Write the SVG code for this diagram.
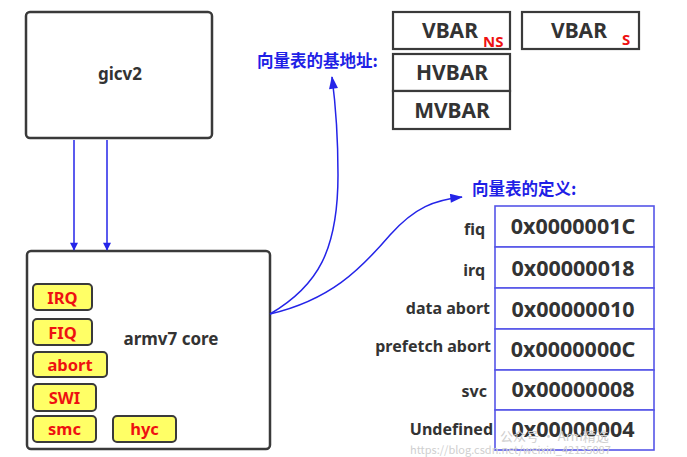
<svg xmlns="http://www.w3.org/2000/svg" width="687" height="457" viewBox="0 0 687 457">
<style>
.box{fill:#fff;stroke:#3a3a3a;stroke-width:2.5}
.reg{fill:#fff;stroke:#3a3a3a;stroke-width:2.2}
.exc{fill:#ffff66;stroke:#3a3a3a;stroke-width:2}
.row{fill:#fff;stroke:#5555e8;stroke-width:1.6}
.t{font-family:"Noto Sans","Liberation Sans",sans-serif;font-weight:bold;fill:#333}
.red{font-family:"Noto Sans","Liberation Sans",sans-serif;font-weight:bold;fill:#ee1111}
.cn{font-family:"Noto Sans CJK SC","Noto Sans",sans-serif;font-weight:bold;fill:#1f1fe6;font-size:16.5px}
.conn{fill:none;stroke:#2424e8;stroke-width:1.5}
.wm{font-family:"Noto Sans CJK SC","Noto Sans",sans-serif;fill:#cfcfcf}
</style>
<defs>
<marker id="ah" viewBox="0 0 10 10" refX="9" refY="5" markerWidth="10" markerHeight="8" markerUnits="userSpaceOnUse" orient="auto">
<path d="M0,0 L10,5 L0,10 Z" fill="#2424e8"/>
</marker>
<marker id="ah2" viewBox="0 0 14 10" refX="13" refY="5" markerWidth="14" markerHeight="9" markerUnits="userSpaceOnUse" orient="auto">
<path d="M0,0 L14,5 L0,10 Z" fill="#2424e8"/>
</marker>
</defs>

<g id="gicv2">
<rect class="box" x="26" y="12" width="186" height="126" rx="4"/>
<text class="t" x="120" y="80" font-size="17" text-anchor="middle">gicv2</text>
</g>

<g id="armv7-core">
<rect class="box" x="27" y="251" width="243" height="198" rx="4"/>
<text class="t" x="171" y="345" font-size="17" text-anchor="middle">armv7 core</text>
</g>
<g id="irq"><rect class="exc" x="33" y="284" width="59" height="26" rx="4"/><text class="red" x="62.5" y="303.5" font-size="16.5" text-anchor="middle">IRQ</text></g>
<g id="fiq"><rect class="exc" x="33" y="319" width="59" height="26" rx="4"/><text class="red" x="62.5" y="338.5" font-size="16.5" text-anchor="middle">FIQ</text></g>
<g id="abort"><rect class="exc" x="33" y="352" width="74" height="25" rx="4"/><text class="red" x="70" y="371" font-size="16.5" text-anchor="middle">abort</text></g>
<g id="swi"><rect class="exc" x="33" y="384" width="63" height="27" rx="4"/><text class="red" x="64.5" y="403.5" font-size="16.5" text-anchor="middle">SWI</text></g>
<g id="smc"><rect class="exc" x="33" y="416" width="63" height="26" rx="4"/><text class="red" x="64.5" y="435" font-size="16.5" text-anchor="middle">smc</text></g>
<g id="hyc"><rect class="exc" x="113" y="416" width="63" height="26" rx="4"/><text class="red" x="144.5" y="435" font-size="16.5" text-anchor="middle">hyc</text></g>

<g id="vbar-ns">
<rect class="reg" x="393" y="12" width="117" height="37"/>
<text class="t" x="422" y="38" font-size="21">VBAR</text>
<text class="red" x="483" y="47" font-size="15">NS</text>
</g>
<g id="vbar-s">
<rect class="reg" x="522" y="12" width="117" height="37"/>
<text class="t" x="551" y="38" font-size="21">VBAR</text>
<text class="red" x="622" y="45" font-size="15">S</text>
</g>
<g id="hvbar">
<rect class="reg" x="393" y="54" width="117" height="37"/>
<text class="t" x="452" y="80" font-size="21" text-anchor="middle">HVBAR</text>
</g>
<g id="mvbar">
<rect class="reg" x="393" y="91" width="117" height="38"/>
<text class="t" x="452" y="118" font-size="21" text-anchor="middle">MVBAR</text>
</g>

<g id="label-base">
<text class="cn" x="257" y="67">向量表的基地址:</text>
</g>
<g id="label-def">
<text class="cn" x="472" y="195">向量表的定义:</text>
</g>

<g id="vector-table">
<rect class="row" x="495" y="206" width="159" height="41"/>
<rect class="row" x="495" y="247" width="159" height="41"/>
<rect class="row" x="495" y="288" width="159" height="41"/>
<rect class="row" x="495" y="329" width="159" height="41"/>
<rect class="row" x="495" y="370" width="159" height="40"/>
<rect class="row" x="495" y="410" width="159" height="40"/>
<g class="t" font-size="21.5" text-anchor="middle">
<text x="573" y="234">0x0000001C</text>
<text x="573" y="276">0x00000018</text>
<text x="573" y="317">0x00000010</text>
<text x="573" y="357">0x0000000C</text>
<text x="573" y="397">0x00000008</text>
<text x="573" y="437">0x00000004</text>
</g>
<g class="t" font-size="16" text-anchor="end">
<text x="485" y="235">fiq</text>
<text x="485" y="276">irq</text>
<text x="490" y="314">data abort</text>
<text x="491" y="352">prefetch abort</text>
<text x="487" y="397">svc</text>
<text x="493" y="435">Undefined</text>
</g>
</g>

<g id="connectors">
<line class="conn" x1="74" y1="140" x2="74" y2="250" marker-end="url(#ah)"/>
<line class="conn" x1="107" y1="140" x2="107" y2="250" marker-end="url(#ah)"/>
<path class="conn" d="M270,314 C318,286 338,250 338,175 C338,130 335,100 332,77" marker-end="url(#ah2)"/>
<path class="conn" d="M270,314 C330,300 360,270 390,235 C415,207 435,200 462,197" marker-end="url(#ah2)"/>
</g>

<g id="watermark">
<text class="wm" x="500" y="441" font-size="13">公众号 · Arm精选</text>
<text class="wm" x="410" y="454" font-size="11">https://blog.csdn.net/weixin_42135087</text>
</g>
</svg>
